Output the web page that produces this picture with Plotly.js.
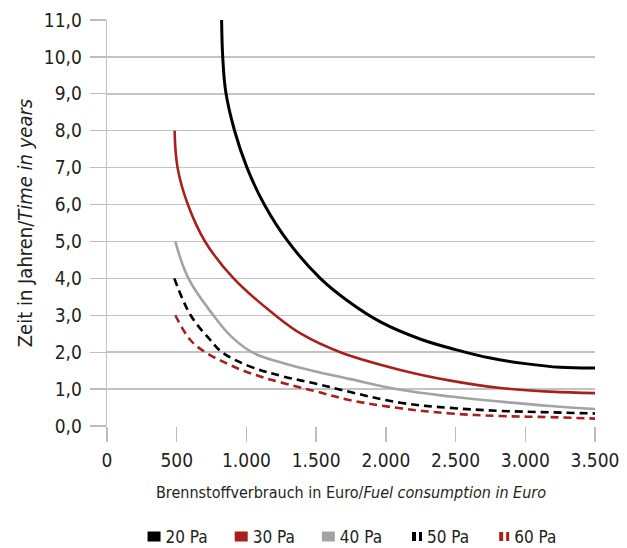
<!DOCTYPE html>
<html>
<head>
<meta charset="utf-8">
<script src="https://cdn.plot.ly/plotly-3.0.1.min.js"></script>
<style>html,body{margin:0;padding:0;background:#fff;}#chart{width:627px;height:548px;}</style>
</head>
<body>
<div id="chart"></div>
<script>
// Data
const seriesNames = ['20 Pa', '30 Pa', '40 Pa', '50 Pa', '60 Pa'];

const x20 = [822, 830, 852, 915, 1004, 1128, 1298, 1530, 1730, 1961, 2250, 2500, 2750, 3000, 3250, 3500];
const y20 = [11, 10, 9.05, 8, 7, 6, 5, 4, 3.38, 2.82, 2.35, 2.07, 1.84, 1.69, 1.59, 1.57];

const x30 = [485, 506, 580, 703, 908, 1207, 1400, 1673, 2104, 2463, 2822, 3181, 3500];
const y30 = [8, 7, 6, 5, 4, 3, 2.48, 2.0, 1.52, 1.23, 1.03, 0.93, 0.89];

const x40 = [490, 584, 763, 885, 1040, 1267, 1506, 1745, 2104, 2463, 2822, 3181, 3500];
const y40 = [5, 4, 3, 2.45, 2.0, 1.70, 1.47, 1.27, 0.98, 0.80, 0.66, 0.54, 0.46];

const x50 = [483, 600, 741, 825, 1028, 1267, 1506, 1745, 2104, 2463, 2822, 3181, 3500];
const y50 = [4, 3.0, 2.33, 2.0, 1.61, 1.34, 1.14, 0.92, 0.63, 0.49, 0.41, 0.37, 0.34];

const x60 = [490, 598, 705, 885, 1028, 1267, 1506, 1745, 2104, 2463, 2822, 3181, 3500];
const y60 = [3, 2.33, 2.0, 1.65, 1.43, 1.16, 0.93, 0.70, 0.48, 0.34, 0.27, 0.24, 0.20];

const xTicks = [0, 500, 1000, 1500, 2000, 2500, 3000, 3500];
const yTicks = [0, 1, 2, 3, 4, 5, 6, 7, 8, 9, 10, 11];

const BLACK = '#000000', RED = '#a6201e', GRAY = '#a3a3a3';
const TXT = '#231f20';
const FONT = "'Liberation Sans Narrow', 'DejaVu Sans Condensed', 'Arial Narrow', sans-serif";

const xs = [x20, x30, x40, x50, x60];
const ys = [y20, y30, y40, y50, y60];
const colors = [BLACK, RED, GRAY, BLACK, RED];
const widths = [3, 2.6, 2.6, 2.6, 2.6];
const dashes = ['solid', 'solid', 'solid', '8px,5px', '8px,5px'];

const traces = [];
for (let i = 0; i < 5; i++) {
  traces.push({
    type: 'scatter', mode: 'lines', x: xs[i], y: ys[i],
    line: {color: colors[i], width: widths[i], dash: dashes[i], shape: 'spline', smoothing: 1.1},
    showlegend: false, hoverinfo: 'skip'
  });
}
// legend-only entries (square for solid, double bar for dashed)
for (let i = 0; i < 5; i++) {
  const dashed = dashes[i] !== 'solid';
  traces.push({
    type: 'scatter', mode: 'lines', x: [null], y: [null], name: seriesNames[i],
    line: {color: colors[i], width: dashed ? 9 : 10,
           dash: dashed ? '0px,20px,4px,3px,4px,100px' : '0px,17px,13px,100px'},
    showlegend: true, hoverinfo: 'skip'
  });
}

const layout = {
  width: 627, height: 548,
  margin: {l: 107, r: 32, t: 20, b: 122, autoexpand: false},
  paper_bgcolor: '#ffffff', plot_bgcolor: '#ffffff',
  separators: ',.',
  font: {family: FONT, size: 18, color: TXT},
  xaxis: {
    range: [0, 3500], tickvals: xTicks, tickformat: ',d',
    showgrid: false, zeroline: false, showline: false,
    ticks: 'outside', ticklen: 15, tickwidth: 1.3, tickcolor: '#bdbdbd',
    ticklabelstandoff: 2,
    tickfont: {family: FONT, size: 19, color: TXT},
    title: {text: 'Brennstoffverbrauch in Euro/<i>Fuel consumption in Euro</i>',
            font: {family: FONT, size: 16, color: TXT}, standoff: 17},
    automargin: false
  },
  yaxis: {
    range: [0, 11], tickvals: yTicks, tickformat: '.1f',
    showgrid: true, gridcolor: '#c3c3c3', gridwidth: 1.5,
    zeroline: false, showline: true, linecolor: '#c3c3c3', linewidth: 1.3,
    ticks: 'outside', ticklen: 16, tickwidth: 1.3, tickcolor: '#bdbdbd',
    ticklabelstandoff: 4,
    tickfont: {family: FONT, size: 19, color: TXT},
    title: {text: 'Zeit in Jahren/<i>Time in years</i>',
            font: {family: FONT, size: 20, color: TXT}, standoff: 6},
    automargin: false
  },
  legend: {
    orientation: 'h', x: 0.038, xanchor: 'left', y: -0.273, yanchor: 'middle',
    font: {family: FONT, size: 17, color: TXT},
    bgcolor: 'rgba(0,0,0,0)', borderwidth: 0, itemgap: 5,
    tracegroupgap: 0
  },
  showlegend: true
};

Plotly.newPlot('chart', traces, layout, {displayModeBar: false, staticPlot: true});
</script>
</body>
</html>
